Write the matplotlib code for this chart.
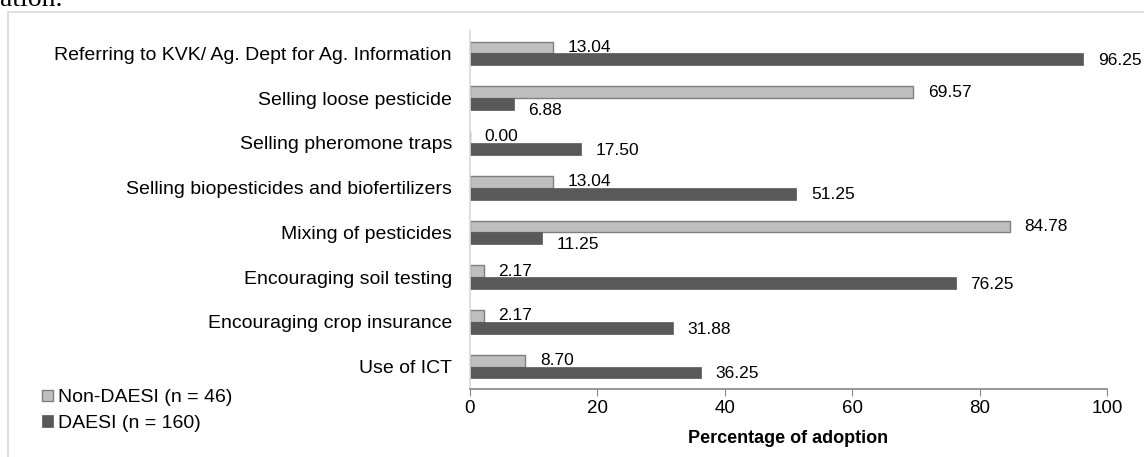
import matplotlib.pyplot as plt
import numpy as np

plt.rcParams['font.family'] = ['Liberation Sans', 'DejaVu Sans']

categories = ['Referring to KVK/ Ag. Dept for Ag. Information',
              'Selling loose pesticide',
              'Selling pheromone traps',
              'Selling biopesticides and biofertilizers',
              'Mixing of pesticides',
              'Encouraging soil testing',
              'Encouraging crop insurance',
              'Use of ICT']
non_daesi = [13.04, 69.57, 0.00, 13.04, 84.78, 2.17, 2.17, 8.70]
daesi = [96.25, 6.88, 17.50, 51.25, 11.25, 76.25, 31.88, 36.25]
xticks = [0, 20, 40, 60, 80, 100]

fig = plt.figure(figsize=(11.44, 4.57), dpi=100)
ax = fig.add_axes([0.4108, 0.1488, 0.5569, 0.7832])

y = np.arange(len(categories))
h = 0.265
ax.barh(y - h / 2, non_daesi, height=h, color='#bfbfbf', edgecolor='#7f7f7f',
        linewidth=1, label='Non-DAESI (n = 46)')
ax.barh(y + h / 2, daesi, height=h, color='#595959', edgecolor='#595959',
        linewidth=0.5, label='DAESI (n = 160)')

for i in range(len(categories)):
    ax.annotate('%.2f' % non_daesi[i], (non_daesi[i], y[i] - h / 2),
                xytext=(10.5, 0), textcoords='offset points',
                va='center', ha='left', fontsize=12.5)
    dy = -4.5 if daesi[i] < non_daesi[i] else -1
    ax.annotate('%.2f' % daesi[i], (daesi[i], y[i] + h / 2),
                xytext=(10.5, dy), textcoords='offset points',
                va='center', ha='left', fontsize=12.5)

ax.set_ylim(len(categories) - 0.5, -0.5)
ax.set_xlim(0, 100)
ax.set_yticks(y)
ax.set_yticklabels(categories, fontsize=14)
ax.set_xticks(xticks)
ax.tick_params(axis='y', length=0, pad=13)
ax.tick_params(axis='x', length=5, color='#868686', labelsize=13.5, pad=3)
ax.set_xlabel('Percentage of adoption', fontsize=13, fontweight='bold', labelpad=9)

for s in ['top', 'right']:
    ax.spines[s].set_visible(False)
ax.spines['bottom'].set_color('#868686')
ax.spines['bottom'].set_linewidth(1.2)
ax.spines['left'].set_color('#d9d9d9')
ax.spines['left'].set_linewidth(1.2)

leg = fig.legend(loc='upper left', bbox_to_anchor=(0.03, 0.165), frameon=False,
                 fontsize=14, handlelength=0.55, handleheight=0.55,
                 handletextpad=0.25, labelspacing=0.45, borderaxespad=0)

# chart frame
fig.add_artist(plt.Rectangle((8 / 1144, -0.1), 1.2, 1 - 12 / 457 + 0.1,
                             transform=fig.transFigure, fill=False,
                             edgecolor='#d9d9d9', linewidth=1.2))
fig.text(0.0, 1.0, 'ation.', family='Liberation Serif', fontsize=20,
         va='center', ha='left')

fig.savefig('out.png', dpi=100)
